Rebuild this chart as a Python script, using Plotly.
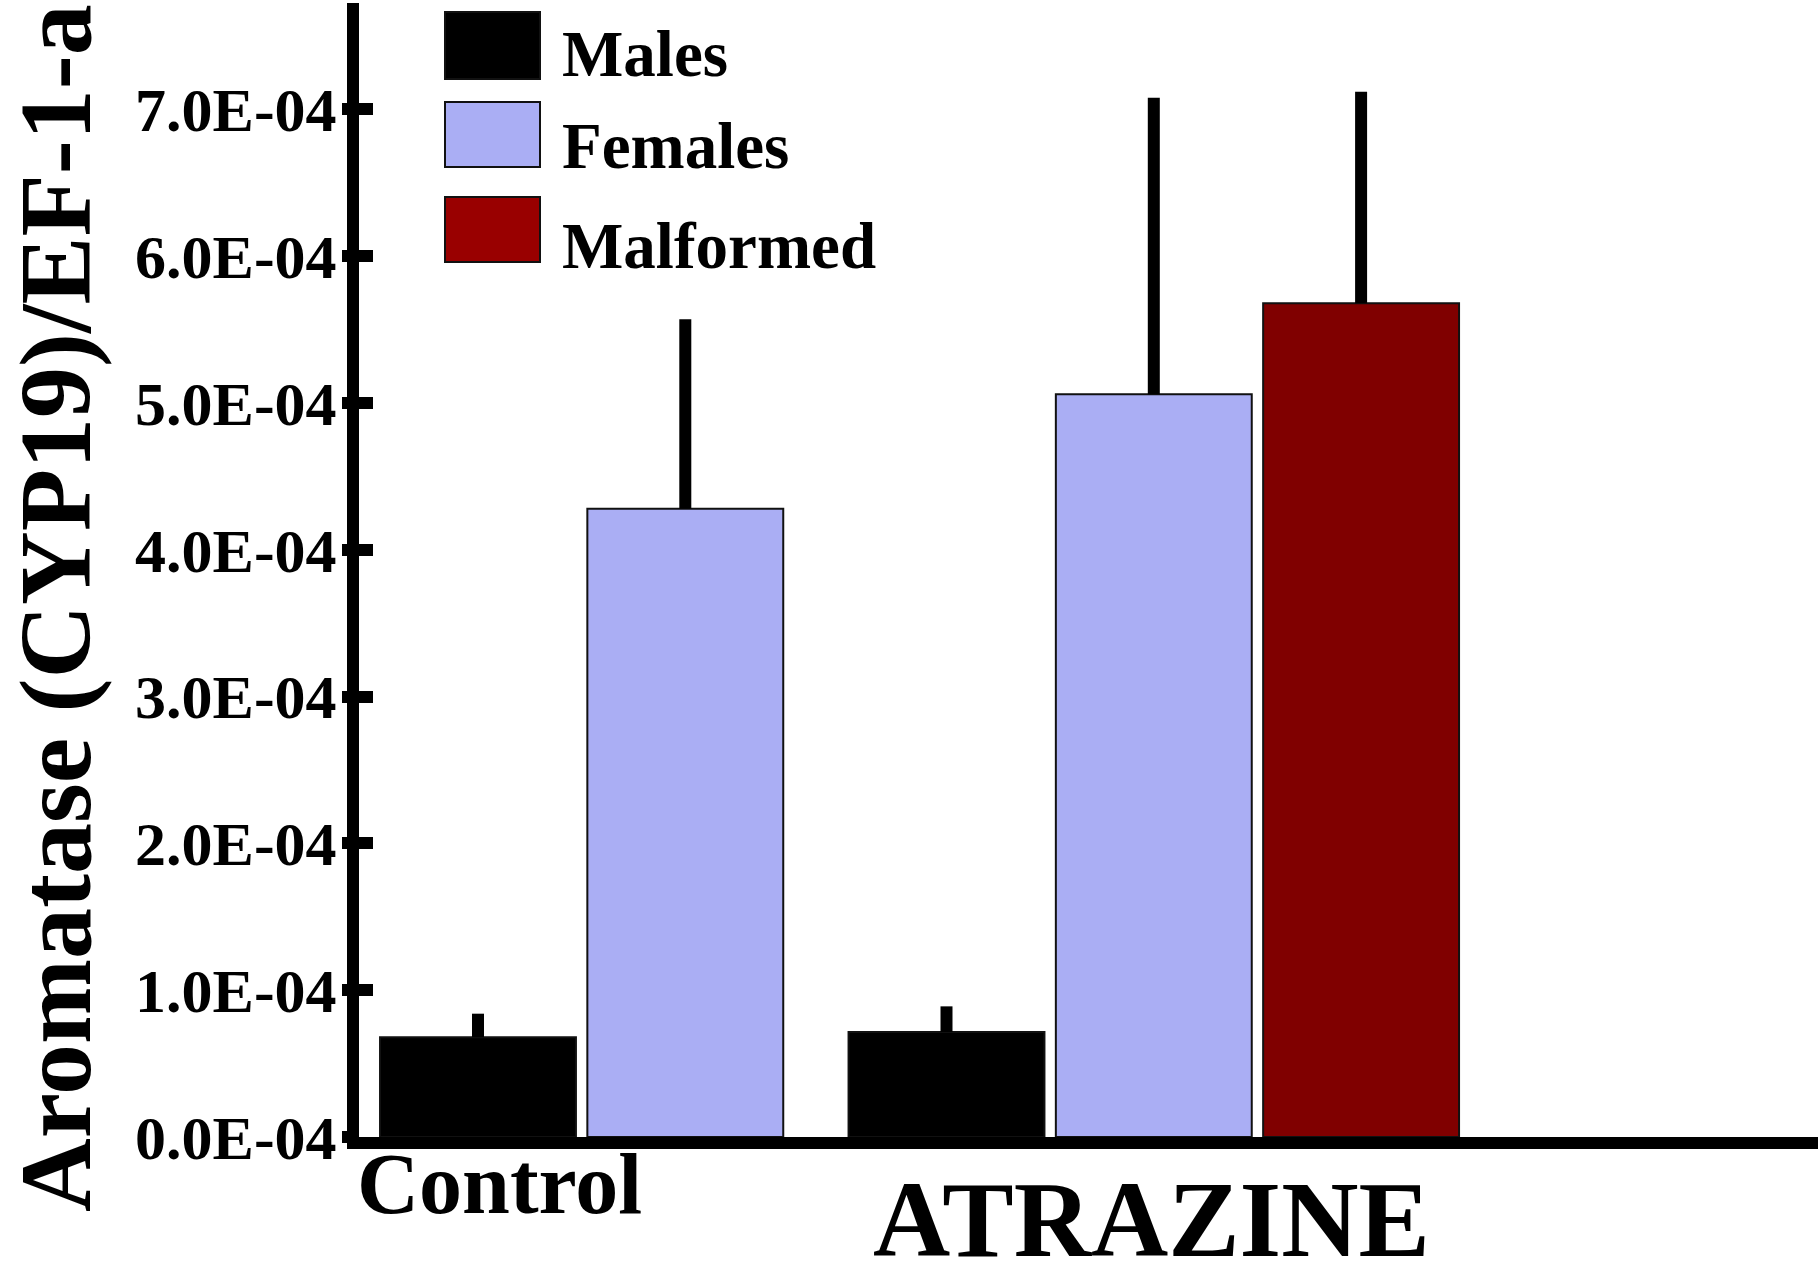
import plotly.graph_objects as go

# ---------------- data ----------------
groups = ["Control", "ATRAZINE"]
series_names = ["Males", "Females", "Malformed"]
males_mean = [6.8e-5, 7.15e-5]
males_sem = [1.6e-5, 1.75e-5]
females_mean = [4.28e-4, 5.06e-4]
females_sem = [1.29e-4, 2.02e-4]
malformed_mean = [None, 5.68e-4]
malformed_sem = [None, 1.44e-4]
y_tick_values = [0.0, 1e-4, 2e-4, 3e-4, 4e-4, 5e-4, 6e-4, 7e-4]
y_tick_labels = ["0.0E-04", "1.0E-04", "2.0E-04", "3.0E-04",
                 "4.0E-04", "5.0E-04", "6.0E-04", "7.0E-04"]
y_title = "Aromatase (CYP19)/EF-1-a"

# ---------------- layout / style ----------------
FIG_W, FIG_H = 1818, 1265
M_L, M_R, M_T, M_B = 359, 0, 3, 128
PLOT_W = FIG_W - M_L - M_R
PLOT_H = FIG_H - M_T - M_B
Y_MAX = 7.725e-4
X_MIN, X_MAX = -0.574, 6.464
GROUP_START = [0.0, 2.26]      # slot offset of each group on the x axis
BAR_W = 0.945
GROUP_LABEL_X = [0.106, 3.251]
GROUP_LABEL_PY = [1184, 1220]
GROUP_LABEL_SIZE = [86, 107]
FONT = "Liberation Serif"
BAR_COLORS = ["#000000", "#AAAEF4", "#800000"]
SWATCH_COLORS = ["#000000", "#AAAEF4", "#990000"]
EDGE = "#111111"
AXIS_LW = 12


def px_x(p):
    return (p - M_L) / PLOT_W


def px_y(p):
    return (FIG_H - M_B - p) / PLOT_H


means = [males_mean, females_mean, malformed_mean]
sems = [males_sem, females_sem, malformed_sem]

fig = go.Figure()
for s, name in enumerate(series_names):
    xs, ys, es = [], [], []
    for g in range(len(groups)):
        if means[s][g] is None:
            continue
        xs.append(GROUP_START[g] + s)
        ys.append(means[s][g])
        es.append(sems[s][g])
    fig.add_trace(go.Bar(
        x=xs, y=ys, name=name, width=BAR_W, showlegend=False,
        marker=dict(color=BAR_COLORS[s], line=dict(color=EDGE, width=2)),
        error_y=dict(type="data", array=es, arrayminus=[0] * len(es),
                     symmetric=False, thickness=12, width=0, color="black"),
    ))

# manual legend (large swatches like the original)
legend_rows_px = [(12, 79), (102, 167), (197, 262)]
legend_text_py = [54, 146, 246]
shapes = []
annotations = []
for i, name in enumerate(series_names):
    y0p, y1p = legend_rows_px[i]
    shapes.append(dict(type="rect", xref="paper", yref="paper",
                       x0=px_x(445), x1=px_x(540), y0=px_y(y1p), y1=px_y(y0p),
                       fillcolor=SWATCH_COLORS[i], line=dict(color=EDGE, width=2)))
    annotations.append(dict(text=name, xref="paper", yref="paper",
                            x=px_x(560), y=px_y(legend_text_py[i]),
                            xanchor="left", yanchor="middle", showarrow=False,
                            font=dict(family=FONT, size=65, color="black", weight="bold")))

for g, label in enumerate(groups):
    annotations.append(dict(text=label, xref="x", yref="paper",
                            x=GROUP_LABEL_X[g], y=px_y(GROUP_LABEL_PY[g]),
                            xanchor="center", yanchor="middle", showarrow=False,
                            font=dict(family=FONT, size=GROUP_LABEL_SIZE[g],
                                      color="black", weight="bold")))

annotations.append(dict(text=y_title, xref="paper", yref="paper",
                        x=px_x(55), y=px_y(608), textangle=-90,
                        xanchor="center", yanchor="middle", showarrow=False,
                        font=dict(family=FONT, size=102, color="black", weight="bold")))

fig.update_layout(
    width=FIG_W, height=FIG_H,
    margin=dict(l=M_L, r=M_R, t=M_T, b=M_B, autoexpand=False),
    paper_bgcolor="white", plot_bgcolor="white",
    barmode="overlay",
    font=dict(family=FONT, color="black"),
    shapes=shapes, annotations=annotations,
    xaxis=dict(range=[X_MIN, X_MAX], showticklabels=False, ticks="",
               showline=True, linewidth=AXIS_LW, linecolor="black",
               showgrid=False, zeroline=False, automargin=False),
    yaxis=dict(range=[0, Y_MAX], tickvals=y_tick_values, ticktext=y_tick_labels,
               ticks="outside", ticklen=5, tickwidth=12, tickcolor="black",
               showline=True, linewidth=AXIS_LW, linecolor="black",
               showgrid=False, zeroline=False, automargin=False,
               ticklabelstandoff=-7,
               tickfont=dict(family=FONT, size=62, color="black", weight="bold")),
    yaxis2=dict(range=[0, Y_MAX], overlaying="y", side="left",
                tickvals=y_tick_values, ticks="inside", ticklen=14, tickwidth=12,
                tickcolor="black", showticklabels=False, showline=False,
                showgrid=False, zeroline=False, automargin=False),
)
# invisible trace to activate yaxis2
fig.add_trace(go.Scatter(x=[X_MIN], y=[0], yaxis="y2", mode="markers",
                         marker=dict(opacity=0), showlegend=False, hoverinfo="skip"))

fig.write_html("out.html",
               config={"displayModeBar": False},
               post_script="document.body.style.margin='0';"
                           "document.body.style.overflow='hidden';")
